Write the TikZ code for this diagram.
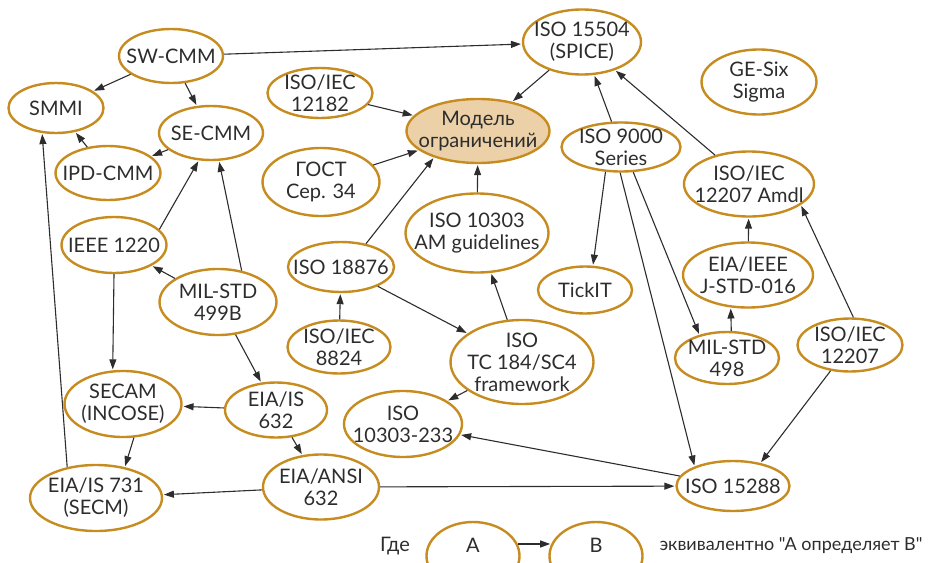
\documentclass[tikz,border=0pt]{standalone}
\usepackage{fontspec}
\setmainfont{Lato}[Ligatures=TeXOff]
\usepackage{tikz}
\usetikzlibrary{shapes.geometric}
\usetikzlibrary{arrows.meta}

\definecolor{gold}{RGB}{198,140,32}
\definecolor{sand}{RGB}{236,209,168}
\definecolor{ink}{RGB}{45,45,45}

\tikzset{
    std node/.style={ellipse, draw=gold, line width=2.4pt, inner sep=0pt},
    txt/.style={align=center, text=ink, font=\fontsize{20}{22}\selectfont},
    conn/.style={draw=ink, line width=1.1pt, shorten >=1pt,
        -{Triangle[length=10pt,width=7pt]}}
}

\begin{document}
\begin{tikzpicture}[x=1pt, y=-1pt]
        \useasboundingbox (0,0) rectangle (928,562);

        % left group
        \node[std node, minimum width=104pt, minimum height=54pt,
            label={[txt]center:SW-CMM}] (swcmm) at (171,56) {};
        \node[std node, minimum width=95pt, minimum height=50pt,
            label={[txt]center:SMMI}] (smmi) at (56,108) {};
        \node[std node, minimum width=104pt, minimum height=54pt,
            label={[txt]center:SE-CMM}] (secmm) at (211,133) {};
        \node[std node, minimum width=105pt, minimum height=54pt,
            label={[txt]center:IPD-CMM}] (ipdcmm) at (108,173) {};
        \node[std node, minimum width=105pt, minimum height=56pt,
            label={[txt]center:IEEE 1220}] (ieee1220) at (114,245) {};
        \node[std node, minimum width=117pt, minimum height=66pt,
            label={[txt]center:{MIL-STD\\499B}}] (mil499b) at (218,302) {};
        \node[std node, minimum width=117pt, minimum height=66pt,
            label={[txt]center:{SECAM\\(INCOSE)}}] (secam) at (123,404) {};
        \node[std node, minimum width=102pt, minimum height=55pt,
            label={[txt]center:{EIA/IS\\632}}] (eia632) at (276,410) {};
        \node[std node, minimum width=116pt, minimum height=65pt,
            label={[txt]center:{EIA/ANSI\\632}}] (ansi632) at (321,487) {};
        \node[std node, minimum width=132pt, minimum height=66pt,
            label={[txt]center:{EIA/IS 731\\(SECM)}}] (secm) at (96,498) {};

        % middle group
        \node[std node, minimum width=105pt, minimum height=50pt,
            label={[txt]center:{ISO/IEC\\12182}}] (iec12182) at (320,93) {};
        \node[std node, fill=sand, minimum width=143pt, minimum height=64pt,
            label={[txt]center:{Модель\\ограничений}}] (model) at (478,131) {};
        \node[std node, minimum width=117pt, minimum height=68pt,
            label={[txt]center:{ГОСТ\\Сер. 34}}] (gost) at (321,182) {};
        \node[std node, minimum width=143pt, minimum height=79pt,
            label={[txt]center:{ISO 10303\\AM guidelines}}] (amguide) at (477,233) {};
        \node[std node, minimum width=106pt, minimum height=50pt,
            label={[txt]center:ISO 18876}] (iso18876) at (341,267) {};
        \node[std node, minimum width=103pt, minimum height=53pt,
            label={[txt]center:{ISO/IEC\\8824}}] (iec8824) at (339,347) {};
        \node[std node, minimum width=143pt, minimum height=84pt,
            label={[txt]center:{ISO\\TC 184/SC4\\framework}}] (tc184) at (522,362) {};
        \node[std node, minimum width=118pt, minimum height=66pt,
            label={[txt]center:{ISO\\10303-233}}] (iso233) at (403,424) {};

        % right group
        \node[std node, minimum width=118pt, minimum height=65pt,
            label={[txt]center:{ISO 15504\\(SPICE)}}] (spice) at (582,42) {};
        \node[std node, minimum width=115pt, minimum height=65pt,
            label={[txt]center:{GE-Six\\Sigma}}] (sixsigma) at (759,82) {};
        \node[std node, minimum width=119pt, minimum height=49pt,
            label={[txt]center:{ISO 9000\\Series}}] (iso9000) at (621,147) {};
        \node[std node, minimum width=130pt, minimum height=65pt,
            label={[txt]center:{ISO/IEC\\12207 Amdl}}] (amdl) at (749,184) {};
        \node[std node, minimum width=130pt, minimum height=65pt,
            label={[txt]center:{EIA/IEEE\\J-STD-016}}] (jstd) at (748,275) {};
        \node[std node, minimum width=94pt, minimum height=47pt,
            label={[txt]center:TickIT}] (tickit) at (585,290) {};
        \node[std node, minimum width=104pt, minimum height=52pt,
            label={[txt]center:{MIL-STD\\498}}] (mil498) at (727,358) {};
        \node[std node, minimum width=105pt, minimum height=53pt,
            label={[txt]center:{ISO/IEC\\12207}}] (iec12207) at (850,345) {};
        \node[std node, minimum width=113pt, minimum height=50pt,
            label={[txt]center:ISO 15288}] (iso15288) at (733,486) {};

        % legend
        \node[txt] (gde) at (395,546) {Где};
        \node[std node, minimum width=93pt, minimum height=68pt,
            label={[txt, yshift=11pt]center:A}] (lega) at (473,556) {};
        \node[std node, minimum width=93pt, minimum height=68pt,
            label={[txt, yshift=11pt]center:B}] (legb) at (596,556) {};
        \node[txt, font=\fontsize{18}{22}\selectfont, anchor=east] (legtext)
            at (926,546) {эквивалентно "A определяет B"};

        % connectors
        \draw[conn] (swcmm) -- (smmi);
        \draw[conn] (swcmm) -- (secmm);
        \draw[conn] (swcmm) -- (spice);
        \draw[conn] (secmm) -- (ipdcmm);
        \draw[conn] (ipdcmm) -- (smmi);
        \draw[conn] (ieee1220.19) -- (secmm.246);
        \draw[conn] (mil499b.53) -- (secmm.286);
        \draw[conn] (mil499b) -- (ieee1220);
        \draw[conn] (mil499b) -- (eia632);
        \draw[conn] (ieee1220.south) -- (secam.107);
        \draw[conn] (eia632) -- (secam);
        \draw[conn] (secam.288) -- (secm.47);
        \draw[conn] (eia632) -- (ansi632);
        \draw[conn] (ansi632) -- (secm);
        \draw[conn] (ansi632) -- (iso15288);
        \draw[conn] (secm.133) -- (smmi.241);

        \draw[conn] (iec12182) -- (model);
        \draw[conn] (gost) -- (model);
        \draw[conn] (spice) -- (model);
        \draw[conn] (iso18876.43) -- (model.211);
        \draw[conn] (amguide) -- (model);
        \draw[conn] (iec8824) -- (iso18876);
        \draw[conn] (iso18876) -- (tc184);
        \draw[conn] (tc184) -- (amguide);
        \draw[conn] (tc184) -- (iso233);
        \draw[conn] (iso15288) -- (iso233);

        \draw[conn] (iso9000) -- (spice);
        \draw[conn] (amdl) -- (spice);
        \draw[conn] (iso9000.238) -- (tickit.72);
        \draw[conn] (iso9000.268) -- (iso15288.153);
        \draw[conn] (iso9000.296) -- (mil498.140);
        \draw[conn] (jstd) -- (amdl);
        \draw[conn] (mil498.81) -- (jstd.242);
        \draw[conn] (iec12207.83) -- (amdl.338);
        \draw[conn] (iec12207.233) -- (iso15288.40);

        \draw[conn] (lega.15) -- (legb.165);
\end{tikzpicture}
\end{document}
